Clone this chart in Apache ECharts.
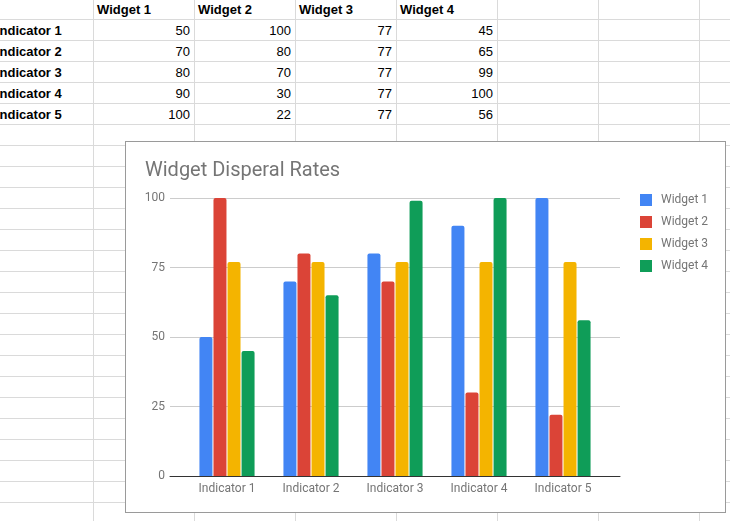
<!DOCTYPE html>
<html>
<head>
<meta charset="utf-8">
<script src="https://cdn.jsdelivr.net/npm/echarts@6/dist/echarts.min.js"></script>
<style>
    html, body { margin: 0; padding: 0; background: #fff; overflow: hidden; }
    #sheet { position: absolute; left: 0; top: 0; width: 730px; height: 521px; overflow: hidden;
             font-family: "Liberation Sans", Arial, sans-serif; font-size: 13px; color: #000; }
    .hline { position: absolute; left: 0; width: 730px; height: 1px; background: #dadada; }
    .vline { position: absolute; top: 0; width: 1px; height: 521px; background: #dadada; }
    .cell { position: absolute; height: 20px; line-height: 20px; white-space: nowrap; }
    .num { text-align: right; width: 96px; }
    .bold { font-weight: bold; }
    #box { position: absolute; left: 125px; top: 141px; width: 599px; height: 370px;
           border: 1px solid #9a9a9a; background: #fff; }
    #echarts1 { width: 599px; height: 370px; }
</style>
</head>
<body>
<div id="sheet"></div>
<div id="box"><div id="echarts1"></div></div>

<script>
    // 表格数据
    const indicators = ['Indicator 1', 'Indicator 2', 'Indicator 3', 'Indicator 4', 'Indicator 5'];
    const widgets = ['Widget 1', 'Widget 2', 'Widget 3', 'Widget 4'];
    const widget1 = [50, 70, 80, 90, 100];
    const widget2 = [100, 80, 70, 30, 22];
    const widget3 = [77, 77, 77, 77, 77];
    const widget4 = [45, 65, 99, 100, 56];
    const colors = ['#4285F4', '#DB4437', '#F4B400', '#0F9D58'];
    const yTicks = { min: 0, max: 100, interval: 25 };

    drawSheet();
    echarts1();

    function drawSheet() {
        let sheet = document.getElementById('sheet');
        let html = '';
        for (let k = 0; k < 25; k++) {
            html += '<div class="hline" style="top:' + (19 + 21 * k) + 'px"></div>';
        }
        for (let k = 0; k < 7; k++) {
            html += '<div class="vline" style="left:' + (93 + 101 * k) + 'px"></div>';
        }
        // 表头
        widgets.forEach(function (w, i) {
            html += '<div class="cell bold" style="left:' + (97 + 101 * i) + 'px;top:0px">' + w + '</div>';
        });
        let values = [widget1, widget2, widget3, widget4];
        indicators.forEach(function (name, r) {
            let top = 19 + 21 * r + 2;
            html += '<div class="cell bold" style="left:-4px;top:' + top + 'px">' + name + '</div>';
            values.forEach(function (col, i) {
                html += '<div class="cell num" style="left:' + (94 + 101 * i) + 'px;top:' + top + 'px">' + col[r] + '</div>';
            });
        });
        sheet.innerHTML = html;
    }

    function echarts1() {
        let myChart = echarts.init(document.getElementById('echarts1'));
        let data = [widget1, widget2, widget3, widget4];
        let option = {
            animation: false,
            color: colors,
            textStyle: { fontFamily: 'Roboto' },
            title: {
                text: 'Widget Disperal Rates',
                left: 19,
                top: 19,
                padding: 0,
                textStyle: { color: '#757575', fontSize: 20, fontWeight: 'normal', fontFamily: 'Roboto' }
            },
            legend: {
                orient: 'vertical',
                left: 514,
                top: 52,
                padding: 0,
                itemWidth: 12,
                itemHeight: 12,
                itemGap: 10,
                icon: 'rect',
                data: widgets,
                textStyle: { color: '#757575', fontSize: 12, padding: [0, 0, 0, 4] }
            },
            grid: [
                { left: 44, top: 56, width: 450, height: 278 },
                { left: 59, top: 56, width: 420, height: 278 }
            ],
            xAxis: [
                {
                    gridIndex: 0, type: 'value', min: 0, max: 1,
                    axisLine: { show: true, lineStyle: { color: '#333', width: 1 } },
                    axisTick: { show: false }, axisLabel: { show: false }, splitLine: { show: false }
                },
                {
                    gridIndex: 1, type: 'category', data: indicators,
                    axisLine: { show: false }, axisTick: { show: false },
                    axisLabel: { color: '#757575', fontSize: 12, margin: 7 }
                }
            ],
            yAxis: [
                {
                    gridIndex: 0, type: 'value', min: yTicks.min, max: yTicks.max, interval: yTicks.interval,
                    axisLine: { show: false }, axisTick: { show: false },
                    axisLabel: { color: '#757575', fontSize: 12, margin: 5 },
                    splitLine: { lineStyle: { color: '#cccccc', width: 1 } }
                },
                {
                    gridIndex: 1, type: 'value', min: yTicks.min, max: yTicks.max, show: false
                }
            ],
            series: widgets.map(function (w, i) {
                return {
                    name: w,
                    type: 'bar',
                    xAxisIndex: 1,
                    yAxisIndex: 1,
                    barWidth: 13,
                    barGap: '8%',
                    itemStyle: { borderRadius: [2, 2, 0, 0] },
                    data: data[i]
                };
            })
        };
        myChart.setOption(option);
    }
</script>
</body>
</html>
